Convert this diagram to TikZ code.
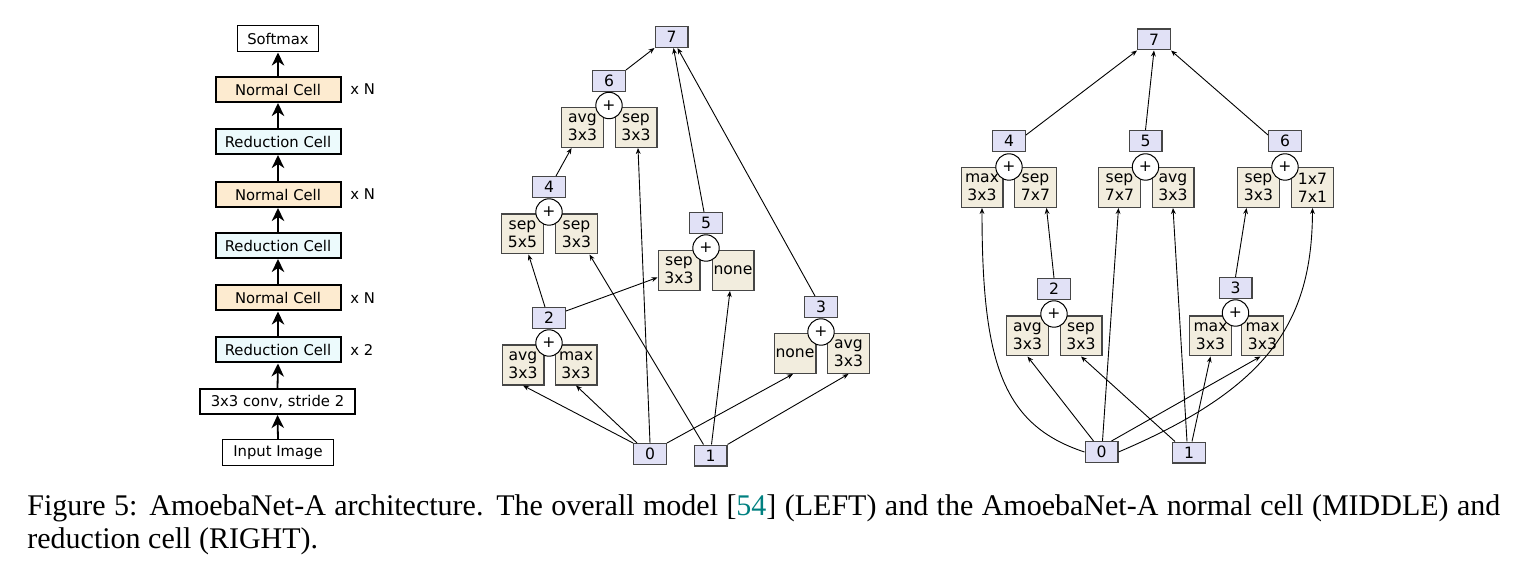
\documentclass[tikz,border=0pt]{standalone}
\usepackage{fontspec}
\setmainfont{Liberation Serif}
\newfontfamily\dvfont{DejaVu Sans}
\usetikzlibrary{arrows.meta,calc}
\definecolor{normalc}{RGB}{253,235,208}
\definecolor{reduc}{RGB}{236,250,252}
\definecolor{numc}{RGB}{225,225,246}
\definecolor{opc}{RGB}{242,237,222}
\definecolor{citec}{RGB}{0,128,128}
\definecolor{edgec}{RGB}{70,70,70}
\begin{document}
\begin{tikzpicture}[x=0.5pt,y=-0.5pt,
  dv/.style={font=\dvfont\fontsize{7.4pt}{9.5pt}\selectfont},
  dvg/.style={font=\dvfont\fontsize{7.8pt}{9pt}\selectfont},
  lbox/.style={dv,draw=black,inner sep=0pt,minimum height=12.5pt},
  thinbox/.style={dv,draw=black,line width=0.5pt,inner sep=0pt,minimum height=13pt},
  thickbox/.style={lbox,line width=1pt,minimum width=62.5pt},
  ncell/.style={thickbox,fill=normalc},
  rcell/.style={thickbox,fill=reduc},
  side/.style={dv,anchor=west,inner sep=0pt},
  bigarr/.style={line width=0.9pt,-{Stealth[length=6.5pt,width=6.2pt,inset=2pt]}},
  opbox/.style={dvg,draw=edgec,line width=0.6pt,fill=opc,inner sep=0pt,minimum width=20.9pt,minimum height=19.9pt,align=center},
  numbox/.style={dvg,draw=edgec,line width=0.6pt,fill=numc,inner sep=0pt,minimum width=16.4pt,minimum height=10.4pt},
  plus/.style={dvg,circle,draw=black,line width=0.5pt,fill=white,inner sep=0pt,minimum size=13.2pt},
  arr/.style={line width=0.45pt,-{Stealth[length=3pt,width=2.4pt]}},
  capt/.style={font=\fontsize{15pt}{17pt}\selectfont,inner sep=0pt,anchor=base west}
]
\useasboundingbox (0,0) rectangle (1532,572);

% ---------------- LEFT: overall model ----------------
\node[thinbox,minimum width=40.5pt] (softmax) at (278,39) {Softmax};
\node[ncell] (nc1) at (278,89.5) {Normal Cell};
\node[rcell] (rc1) at (278,141.5) {Reduction Cell};
\node[ncell] (nc2) at (278,194.5) {Normal Cell};
\node[rcell] (rc2) at (278,245.5) {Reduction Cell};
\node[ncell] (nc3) at (278,298) {Normal Cell};
\node[rcell] (rc3) at (278,350) {Reduction Cell};
\node[lbox,line width=1pt,minimum width=77.5pt] (conv) at (277.5,401.5) {3x3 conv, stride 2};
\node[thinbox,minimum width=55.5pt] (input) at (278,452.5) {Input Image};
\node[side] (xn1) at (350,89.5) {x N};
\node[side] (xn2) at (350,194.5) {x N};
\node[side] (xn3) at (350,298) {x N};
\node[side] (x2) at (350,350) {x 2};
\draw[bigarr] (input.north) -- (conv.south);
\draw[bigarr] (conv.north) -- (rc3.south);
\draw[bigarr] (rc3.north) -- (nc3.south);
\draw[bigarr] (nc3.north) -- (rc2.south);
\draw[bigarr] (rc2.north) -- (nc2.south);
\draw[bigarr] (nc2.north) -- (rc1.south);
\draw[bigarr] (rc1.north) -- (nc1.south);
\draw[bigarr] (nc1.north) -- (softmax.south);

% ---------------- MIDDLE: normal cell ----------------
\node[numbox] (m7) at (671.5,37) {7};
\node[numbox] (m6) at (609,81) {6};
\node[numbox] (m4) at (549,187) {4};
\node[numbox] (m2) at (549,318) {2};
\node[numbox] (m5) at (706,223) {5};
\node[numbox] (m3) at (821,307) {3};
\node[numbox] (m0) at (650,454) {0};
\node[numbox] (m1) at (710.5,455.5) {1};

\node[opbox] (m6a) at (582.5,127.5) {avg\\3x3};
\node[opbox] (m6b) at (636,127.5) {sep\\3x3};
\node[opbox] (m4a) at (522.5,234) {sep\\5x5};
\node[opbox] (m4b) at (576.5,234) {sep\\3x3};
\node[opbox] (m2a) at (523,365) {avg\\3x3};
\node[opbox] (m2b) at (576,365) {max\\3x3};
\node[opbox] (m5a) at (679,270.5) {sep\\3x3};
\node[opbox] (m5b) at (733,270.5) {none};
\node[opbox] (m3a) at (795,353.5) {none};
\node[opbox] (m3b) at (848.5,353.5) {avg\\3x3};

\node[plus] (mp6) at (609,105.5) {+};
\node[plus] (mp4) at (549,212) {+};
\node[plus] (mp2) at (549,343) {+};
\node[plus] (mp5) at (706,248) {+};
\node[plus] (mp3) at (821,332) {+};

\draw[arr] (m0.north west) -- (m2a.south);
\draw[arr] ($(m0.north west)+(4,0)$) -- (m2b.south);
\draw[arr] (m0.north) -- ($(m6b.south)+(2,0)$);
\draw[arr] (m0.north east) -- ($(m3a.south)+(-2,0)$);
\draw[arr] ($(m1.north)+(-7,0)$) -- ($(m4b.south)+(13,0)$);
\draw[arr] ($(m1.north)+(1,0)$) -- ($(m5b.south)+(-3,0)$);
\draw[arr] (m1.north east) -- (m3b.south);
\draw[arr] ($(m2.north)+(-4,0)$) -- ($(m4a.south)+(6,0)$);
\draw[arr] ($(m2.north east)+(0,4)$) -- ($(m5a.west)+(0,7)$);
\draw[arr] ($(m4.north)+(7,0)$) -- ($(m6a.south)+(-11,0)$);
\draw[arr] (m6.north east) -- (m7.south west);
\draw[arr] ($(m5.north)+(-2,0)$) -- ($(m7.south)+(2,0)$);
\draw[arr] ($(m3.north)+(-6,0)$) -- ($(m7.south)+(6,0)$);

% ---------------- RIGHT: reduction cell ----------------
\node[numbox] (r7) at (1154,39.5) {7};
\node[numbox] (r4) at (1009,141) {4};
\node[numbox] (r5) at (1145.5,141) {5};
\node[numbox] (r6) at (1285,141) {6};
\node[numbox] (r2) at (1054,289) {2};
\node[numbox] (r3) at (1235.5,288) {3};
\node[numbox] (r0) at (1101.5,452) {0};
\node[numbox] (r1) at (1189,452.5) {1};

\node[opbox] (r4a) at (982,187.5) {max\\3x3};
\node[opbox] (r4b) at (1035.5,187.5) {sep\\7x7};
\node[opbox] (r5a) at (1119.5,187.5) {sep\\7x7};
\node[opbox] (r5b) at (1173,187.5) {avg\\3x3};
\node[opbox] (r6a) at (1258.5,187.5) {sep\\3x3};
\node[opbox] (r6b) at (1312.5,187.5) {1x7\\7x1};
\node[opbox] (r2a) at (1027.5,336) {avg\\3x3};
\node[opbox] (r2b) at (1081,336) {sep\\3x3};
\node[opbox] (r3a) at (1210.5,336) {max\\3x3};
\node[opbox] (r3b) at (1262.5,336) {max\\3x3};

\node[plus] (rp4) at (1009,167) {+};
\node[plus] (rp5) at (1145.5,167) {+};
\node[plus] (rp6) at (1285,167) {+};
\node[plus] (rp2) at (1054,314) {+};
\node[plus] (rp3) at (1235.5,313) {+};

\draw[arr] (r0.west) .. controls (1002,425) and (982,362) .. (r4a.south);
\draw[arr] ($(r0.north)+(1,0)$) -- ($(r5a.south)+(-1,0)$);
\draw[arr] ($(r0.north)+(-8,0)$) -- (r2a.south);
\draw[arr] ($(r0.north east)+(-7,0)$) -- ($(r3b.south)+(-2,0)$);
\draw[arr] (r0.east) .. controls (1269,388) and (1312,322) .. (r6b.south);
\draw[arr] ($(r1.north west)+(3,0)$) -- (r2b.south);
\draw[arr] ($(r1.north)+(-2,0)$) -- (r5b.south);
\draw[arr] ($(r1.north)+(3,0)$) -- (r3a.south);
\draw[arr] (r2.north) -- ($(r4b.south)+(11,0)$);
\draw[arr] (r3.north) -- ($(r6a.south)+(-12,0)$);
\draw[arr] ($(r4.north east)+(0,5)$) -- (r7.south west);
\draw[arr] (r5.north) -- (r7.south);
\draw[arr] ($(r6.north west)+(0,5)$) -- (r7.south east);

% ---------------- caption ----------------
\node[capt] (cap1) at (27,515) {\makebox[736.5pt][s]{Figure 5: AmoebaNet-A architecture. The overall model [\textcolor{citec}{54}] (LEFT) and the AmoebaNet-A normal cell (MIDDLE) and}};
\node[capt] (cap2) at (27,548.5) {reduction cell (RIGHT).};
\end{tikzpicture}
\end{document}
